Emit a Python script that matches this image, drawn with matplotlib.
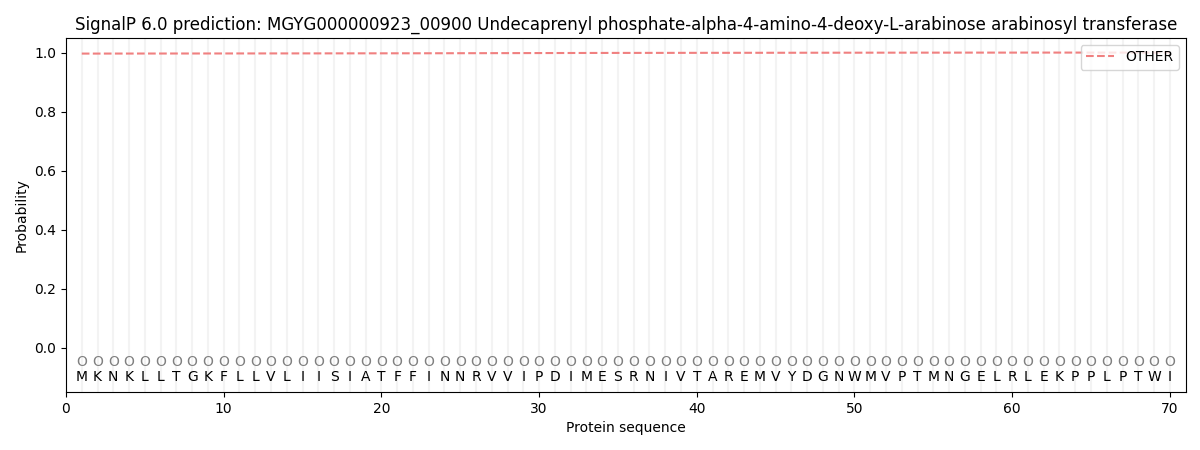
import matplotlib
matplotlib.use('Agg')
import matplotlib.pyplot as plt

title = 'SignalP 6.0 prediction: MGYG000000923_00900 Undecaprenyl phosphate-alpha-4-amino-4-deoxy-L-arabinose arabinosyl transferase'
sequence = list('MKNKLLTGKFLLVLIISIATFFINNRVVIPDIMESRNIVTAREMVYDGNWMVPTMNGELRLEKPPLPTWI')
labels = ['O'] * len(sequence)
positions = list(range(1, len(sequence) + 1))

# probability of OTHER
other_prob = [0.9965, 0.9965, 0.9966, 0.9966, 0.9967, 0.9967, 0.9968, 0.9968, 0.9969, 0.9969,
              0.9970, 0.9970, 0.9971, 0.9971, 0.9972, 0.9972, 0.9973, 0.9973, 0.9974, 0.9974,
              0.9975, 0.9975, 0.9976, 0.9977, 0.9978, 0.9979, 0.9980, 0.9981, 0.9982, 0.9983,
              0.9984, 0.9985, 0.9986, 0.9987, 0.9988, 0.9988, 0.9989, 0.9989, 0.9990, 0.9990,
              0.9991, 0.9991, 0.9992, 0.9992, 0.9993, 0.9993, 0.9994, 0.9994, 0.9995, 0.9995,
              0.9996, 0.9996, 0.9996, 0.9997, 0.9997, 0.9997, 0.9998, 0.9998, 0.9998, 0.9998,
              0.9999, 0.9999, 0.9999, 0.9999, 0.9999, 0.9999, 0.9999, 0.9999, 0.9999, 0.9999]

fig, ax = plt.subplots(figsize=(12, 4.5), dpi=100)

for p in positions:
    ax.axvline(p, color='#e8e8e8', linewidth=1.5, alpha=0.5, zorder=0)

ax.plot(positions, other_prob, color='#f08080', linestyle='--', linewidth=1.5, label='OTHER')

for p, aa, lab in zip(positions, sequence, labels):
    ax.text(p, -0.05, lab, ha='center', va='center', fontsize=10, color='grey')
    ax.text(p, -0.1, aa, ha='center', va='center', fontsize=10, color='black')

ax.set_xlim(0, 71)
ax.set_ylim(-0.15, 1.05)
ax.set_xlabel('Protein sequence')
ax.set_ylabel('Probability')
ax.set_title(title)
ax.legend(loc='upper right')

fig.subplots_adjust(left=0.055, right=0.988, top=0.916, bottom=0.129)
fig.savefig('out.png')
